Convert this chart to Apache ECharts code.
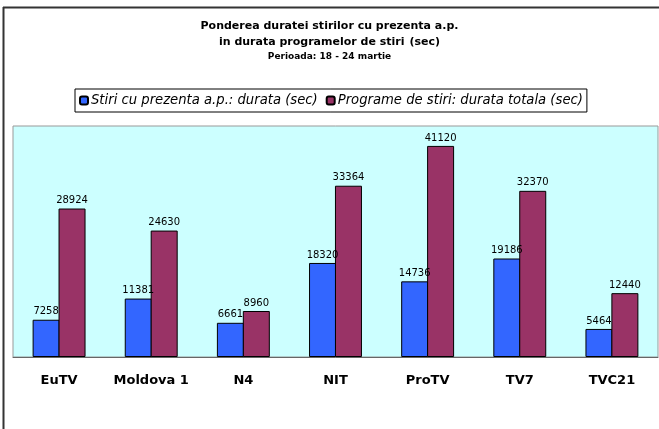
<!DOCTYPE html>
<html>
<head>
<meta charset="utf-8">
<script src="https://cdn.jsdelivr.net/npm/echarts@6/dist/echarts.min.js"></script>
<style>
  html, body { margin: 0; padding: 0; background: #fff; }
</style>
</head>
<body>
<div id="main" style="width: 659px; height: 429px"></div>
<script>
// date extrase din grafic
const channels = ['EuTV', 'Moldova 1', 'N4', 'NIT', 'ProTV', 'TV7', 'TVC21']
const stiriAp = [7258, 11381, 6661, 18320, 14736, 19186, 5464]
const programeTotal = [28924, 24630, 8960, 33364, 41120, 32370, 12440]
const seriesNames = ['Stiri cu prezenta a.p.: durata (sec)', 'Programe de stiri: durata totala (sec)']

const font = 'Tahoma, "DejaVu Sans", sans-serif'
const myChart = echarts.init(document.getElementById('main'))

const option = {
  backgroundColor: '#fff',
  animation: false,
  title: [
    {
      text: 'Ponderea duratei stirilor cu prezenta a.p.',
      left: 'center',
      top: 16,
      textStyle: { fontFamily: font, fontWeight: 'bold', fontSize: 11, color: '#000' }
    },
    {
      text: '{b|in durata programelor de stiri} {n|(sec)}',
      left: 'center',
      top: 28,
      textStyle: {
        rich: {
          b: { fontFamily: font, fontWeight: 'bold', fontSize: 11, color: '#000' },
          n: { fontFamily: font, fontSize: 11, color: '#000' }
        }
      }
    },
    {
      text: 'Perioada: 18 - 24 martie',
      left: 'center',
      top: 47,
      textStyle: { fontFamily: font, fontWeight: 'bold', fontSize: 9, color: '#000' }
    }
  ],
  legend: {
    data: seriesNames,
    left: 75,
    top: 89,
    itemWidth: 8,
    itemHeight: 8,
    itemGap: 8,
    padding: [5, 4, 5, 4],
    borderColor: '#000',
    borderWidth: 1,
    textStyle: { fontFamily: font, fontStyle: 'italic', fontSize: 13.2, color: '#000', padding: [0, 0, 0, -2] }
  },
  graphic: [
    { type: 'line', shape: { x1: 3.5, y1: 7, x2: 3.5, y2: 429 }, style: { stroke: '#333', lineWidth: 2 } },
    { type: 'line', shape: { x1: 3, y1: 7.5, x2: 659, y2: 7.5 }, style: { stroke: '#333', lineWidth: 2 } }
  ],
  grid: {
    left: 13,
    right: 1,
    top: 126,
    bottom: 72,
    show: true,
    backgroundColor: '#CCFFFF',
    borderColor: '#999',
    borderWidth: 1
  },
  xAxis: {
    type: 'category',
    data: channels,
    axisLine: { lineStyle: { color: '#666', width: 1 } },
    axisTick: { length: 5, lineStyle: { color: '#666' } },
    axisLabel: { interval: 0, fontFamily: font, fontWeight: 'bold', fontSize: 13, color: '#000', margin: 17 }
  },
  yAxis: {
    type: 'value',
    min: 0,
    max: 45000,
    show: false,
    splitLine: { show: false }
  },
  series: [
    {
      name: seriesNames[0],
      type: 'bar',
      data: stiriAp,
      barWidth: 27,
      barGap: '-4%',
      itemStyle: { color: '#3366FF', borderColor: '#000', borderWidth: 1 },
      label: { show: true, position: 'top', distance: 3, fontFamily: font, fontSize: 10, color: '#000' }
    },
    {
      name: seriesNames[1],
      type: 'bar',
      data: programeTotal,
      barWidth: 27,
      barGap: '-4%',
      itemStyle: { color: '#993366', borderColor: '#000', borderWidth: 1 },
      label: { show: true, position: 'top', distance: 3, fontFamily: font, fontSize: 10, color: '#000' }
    }
  ]
}
myChart.setOption(option)
</script>
</body>
</html>
